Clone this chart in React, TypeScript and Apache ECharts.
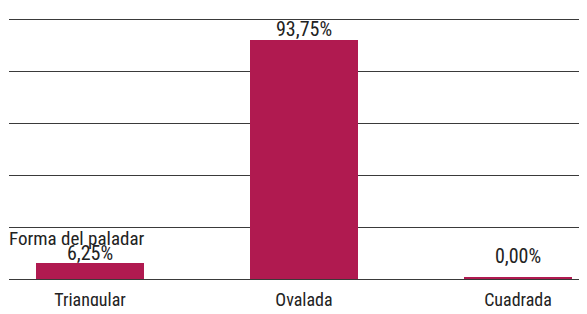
import React, { useEffect, useRef } from "react";
import * as echarts from "echarts";

const categories = ["Triangular", "Ovalada", "Cuadrada"];
const values = [6.25, 93.75, 0];
const titleText = "Forma del paladar";

const FONT = '"Roboto Condensed", "DejaVu Sans Condensed", sans-serif';
const BAR = "#B01A50";
const INK = "#222222";
const labelDistance = [0, 1, 11];

export default function App() {
  const ref = useRef<HTMLDivElement>(null);
  useEffect(() => {
    if (!ref.current) return;
    const chart = echarts.init(ref.current, null, { renderer: "svg" });
    chart.setOption({
      animation: false,
      backgroundColor: "#ffffff",
      title: {
        text: titleText,
        left: 9,
        top: 229,
        padding: 0,
        textStyle: { fontFamily: FONT, fontSize: 19, fontWeight: "normal", color: INK },
      },
      grid: [
        { left: 9, right: 0, top: 19, bottom: 35 },
        { left: 90, right: 69, top: 19, bottom: 35 },
      ],
      xAxis: [
        { type: "category", gridIndex: 0, data: categories, show: false },
        {
          type: "category",
          gridIndex: 1,
          data: categories,
          boundaryGap: false,
          axisLine: { show: false },
          axisTick: { show: false },
          axisLabel: { fontFamily: FONT, fontSize: 18, color: INK, margin: 11 },
        },
      ],
      yAxis: [
        {
          type: "value",
          gridIndex: 0,
          min: 0,
          max: 100,
          interval: 20,
          axisLabel: { show: false },
          axisLine: { show: false },
          axisTick: { show: false },
          splitLine: { show: true, lineStyle: { color: "#3a3a3a", width: 1 } },
        },
        {
          type: "value",
          gridIndex: 1,
          min: 0,
          max: 102,
          show: false,
          splitLine: { show: false },
        },
      ],
      series: [
        {
          type: "bar",
          xAxisIndex: 1,
          yAxisIndex: 1,
          barWidth: 108,
          barMinHeight: 2,
          itemStyle: { color: BAR },
          data: values.map((v, i) => ({ value: v, label: { distance: labelDistance[i] } })),
          label: {
            show: true,
            position: "top",
            fontFamily: FONT,
            fontSize: 20,
            color: INK,
            formatter: (p: any) => p.value.toFixed(2).replace(".", ",") + "%",
          },
        },
      ],
    });
    return () => chart.dispose();
  }, []);
  return <div ref={ref} style={{ width: 587, height: 314, margin: -8 }} />;
}
